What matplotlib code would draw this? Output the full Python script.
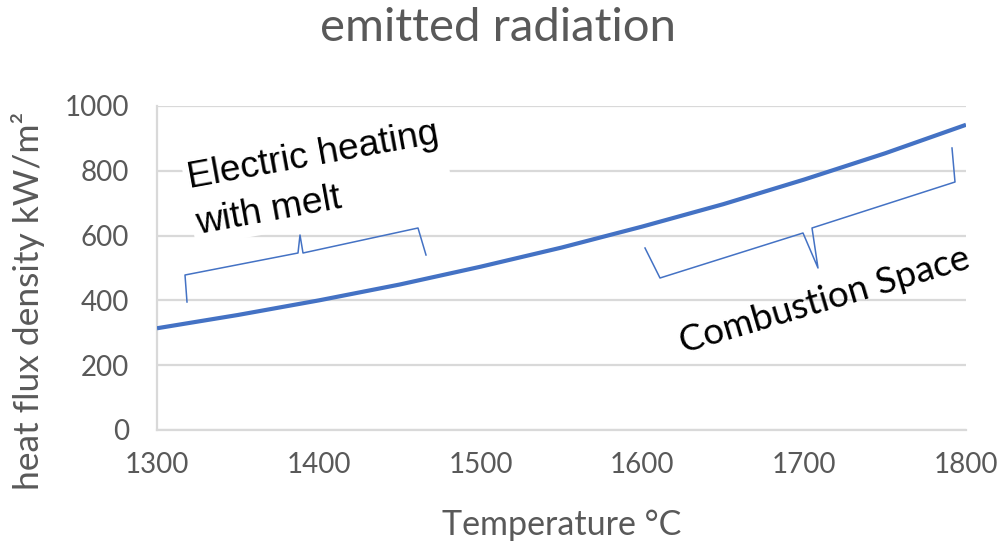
import matplotlib
matplotlib.use("Agg")
import matplotlib.pyplot as plt
import matplotlib.transforms as mtransforms
import numpy as np

# ---- data ----
temperature = [1300, 1350, 1400, 1450, 1500, 1550, 1600, 1650, 1700, 1750, 1800]
heat_flux = [314, 355, 400, 449, 504, 563, 628, 697, 773, 854, 942]
x_ticks = [1300, 1400, 1500, 1600, 1700, 1800]
y_ticks = [0, 200, 400, 600, 800, 1000]
title = "emitted radiation"
x_label = "Temperature °C"
y_label = "heat flux density kW/m²"
label_electric = "Electric heating\nwith melt"
label_combustion = "Combustion Space"

W, H = 1003, 550
GRAY = "#595959"
GRID = "#d9d9d9"
BLUE = "#4472C4"
FONT = ["Lato", "DejaVu Sans"]

fig = plt.figure(figsize=(W / 100, H / 100), dpi=100)
ax = fig.add_axes([157 / W, 1 - 430 / H, (966 - 157) / W, (430 - 106) / H])

ax.plot(temperature, heat_flux, color=BLUE, lw=3.0, solid_capstyle="butt", zorder=3)

ax.set_xlim(1300, 1800)
ax.set_ylim(0, 1000)
ax.set_xticks(x_ticks)
ax.set_yticks(y_ticks)
ax.set_xticklabels([str(v) for v in x_ticks], fontsize=20, color=GRAY, family=FONT)
ax.set_yticklabels([str(v) for v in y_ticks], fontsize=20, color=GRAY, family=FONT)
ax.tick_params(axis="both", length=0)
ax.tick_params(axis="y", pad=20)
ax.tick_params(axis="x", pad=16)
ax.grid(axis="y", color=GRID, lw=1.6, zorder=0)
for s in ["top", "right"]:
    ax.spines[s].set_visible(False)
for s in ["left", "bottom"]:
    ax.spines[s].set_color(GRID)
    ax.spines[s].set_linewidth(1.6)
ax.set_axisbelow(True)

fig.text(498 / W, 1 - 28 / H, title, ha="center", va="center", fontsize=34,
         color=GRAY, family=FONT)
fig.text(562 / W, 1 - 525 / H, x_label, ha="center", va="center", fontsize=24.5,
         color=GRAY, family=FONT)
fig.text(28 / W, 1 - 301 / H, y_label, ha="center", va="center", fontsize=25.5,
         color=GRAY, family=FONT, rotation=90)

# pixel transform (origin top-left)
pix = mtransforms.Affine2D().scale(1, -1).translate(0, H)

# braces (annotation shapes)
brace_electric = [(187, 302), (185, 275), (298, 253), (300, 235), (303, 253), (418, 228), (426, 255)]
brace_combustion = [(645, 248), (660, 278), (803, 233), (818, 268), (812, 228), (955, 182), (952, 148)]
for br in (brace_electric, brace_combustion):
    xs, ys = zip(*br)
    fig.lines.append(matplotlib.lines.Line2D(xs, ys, transform=pix, color=BLUE, lw=1.1,
                                             solid_joinstyle="round"))

fig.text(185, 162, label_electric, transform=pix, rotation=10.3, rotation_mode="anchor",
         ha="left", va="top", fontsize=26.8, family=["Liberation Sans", "DejaVu Sans"],
         color="black", linespacing=1.42, zorder=2,
         bbox=dict(facecolor="white", edgecolor="none", pad=3))
ax.set_zorder(1)

fig.text(683, 353, label_combustion, transform=pix, rotation=16.5, rotation_mode="anchor",
         ha="left", va="baseline", fontsize=26.5, family=FONT, color="black")

fig.savefig("out.png", dpi=100)
